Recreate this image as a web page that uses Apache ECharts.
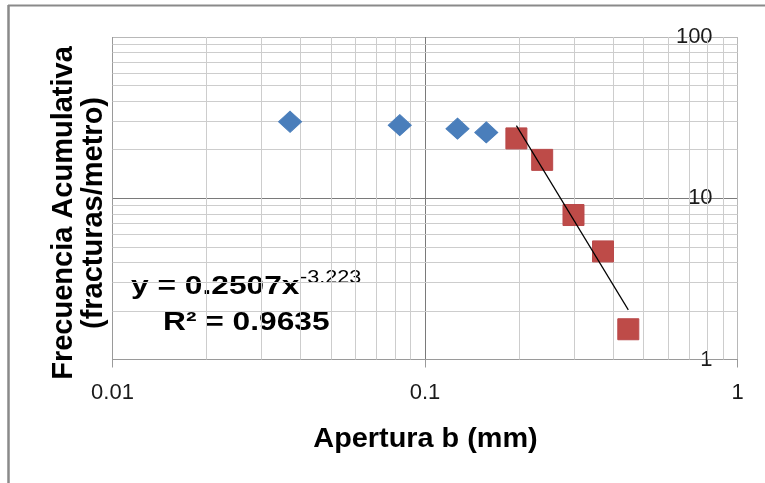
<!DOCTYPE html>
<html>
<head>
<meta charset="utf-8">
<script src="https://cdn.jsdelivr.net/npm/echarts@6/dist/echarts.min.js"></script>
<style>
html,body{margin:0;padding:0;background:#fff;}
#chart{width:765px;height:483px;}
</style>
</head>
<body>
<div id="chart"></div>
<script>
// ---- data ----
var blueX = [0.037, 0.083, 0.127, 0.157];
var blueY = [29.8, 28.4, 27.0, 25.6];
var redX = [0.196, 0.237, 0.2985, 0.371, 0.447];
var redY = [23.5, 17.3, 7.87, 4.68, 1.54];
var trendX = [0.196, 0.447];
var trendY = [28.2, 2.03];
var xTickLabels = ['0.01', '0.1', '1'];
var yTickLabels = ['1', '10', '100'];
var xTitle = 'Apertura b (mm)';
var yTitle = ['Frecuencia Acumulativa', '(fracturas/metro)'];
var eqMain = 'y = 0.2507x';
var eqExp = '-3.223';
var eqR2 = 'R\u00B2 = 0.9635';

function zip(a, b) { return a.map(function (v, i) { return [v, b[i]]; }); }

// minor gridline positions (2..9 within each decade)
var xMinor = [], yMinor = [];
[0.01, 0.1].forEach(function (d) { for (var k = 2; k <= 9; k++) xMinor.push(+(k * d).toPrecision(3)); });
[1, 10].forEach(function (d) { for (var k = 2; k <= 9; k++) yMinor.push(k * d); });
var minorLines = xMinor.map(function (v) { return { xAxis: v }; })
  .concat(yMinor.map(function (v) { return { yAxis: v }; }));

var FONT = '"Liberation Sans", Arial, sans-serif';
var chart = echarts.init(document.getElementById('chart'), null, { renderer: 'canvas' });
chart.setOption({
  backgroundColor: '#ffffff',
  animation: false,
  grid: { left: 112.5, right: 27.4, top: 37, bottom: 123.5, containLabel: false },
  xAxis: {
    type: 'log', logBase: 10, min: 0.01, max: 1,
    axisLine: { show: true, lineStyle: { color: '#9a9a9a', width: 1 } },
    axisTick: { show: true, length: 8, lineStyle: { color: '#9a9a9a' } },
    axisLabel: {
      fontSize: 22, color: '#1a1a1a', fontFamily: FONT, margin: 22,
      formatter: function (v, i) { return xTickLabels[i]; }
    },
    splitLine: { show: true, lineStyle: { color: ['#9a9a9a', '#7a7a7a', '#b8b8b8'], width: 1 } },
    minorTick: { show: false }, minorSplitLine: { show: false }
  },
  yAxis: {
    type: 'log', logBase: 10, min: 1, max: 100, position: 'right',
    axisLine: { show: false }, axisTick: { show: false },
    axisLabel: {
      inside: true, margin: 25, fontSize: 22, color: '#1a1a1a', fontFamily: FONT,
      formatter: function (v, i) { return yTickLabels[i]; }
    },
    splitLine: { show: true, lineStyle: { color: ['#9a9a9a', '#7a7a7a', '#b8b8b8'], width: 1 } },
    minorTick: { show: false }, minorSplitLine: { show: false }
  },
  series: [
    {
      type: 'line', name: 'trend', data: zip(trendX, trendY),
      showSymbol: false, symbol: 'none', z: 3,
      lineStyle: { color: '#000', width: 1.2 },
      markLine: {
        silent: true, symbol: 'none', z: 1, animation: false,
        label: { show: false },
        lineStyle: { color: '#cdcdcd', width: 1, type: 'solid' },
        emphasis: { disabled: true },
        data: minorLines
      }
    },
    {
      type: 'scatter', name: 'blue', data: zip(blueX, blueY),
      symbol: 'diamond', symbolSize: [23, 21], z: 2,
      itemStyle: { color: '#4A7EBB', borderColor: '#4A7EBB', borderWidth: 1, opacity: 1 }
    },
    {
      type: 'scatter', name: 'red', data: zip(redX, redY),
      symbol: 'rect', symbolSize: 21, z: 2,
      itemStyle: { color: '#BE4B48', borderColor: '#B9494A', borderWidth: 1, opacity: 1 }
    }
  ],
  graphic: [
    { type: 'line', shape: { x1: 8, y1: 5.5, x2: 765, y2: 5.5 }, style: { stroke: '#8a8a8a', lineWidth: 2 }, silent: true },
    { type: 'line', shape: { x1: 8.5, y1: 5, x2: 8.5, y2: 483 }, style: { stroke: '#8a8a8a', lineWidth: 2.5 }, silent: true },
    {
      type: 'text', x: 79, y: 213, rotation: Math.PI / 2, silent: true,
      style: { text: yTitle.join('\n'), font: 'bold 29px ' + FONT, fill: '#000', align: 'center', verticalAlign: 'middle', lineHeight: 30 }
    },
    {
      type: 'text', x: 425.5, y: 439, scaleX: 1.03, silent: true,
      style: { text: xTitle, font: 'bold 28px ' + FONT, fill: '#000', align: 'center', verticalAlign: 'middle' }
    },
    {
      type: 'text', x: 131, y: 287, scaleX: 1.22, silent: true,
      style: { text: eqMain, font: 'bold 26px ' + FONT, fill: '#000', align: 'left', verticalAlign: 'middle' }
    },
    {
      type: 'text', x: 300, y: 278, scaleX: 1.2, silent: true,
      style: { text: eqExp, font: '18px ' + FONT, fill: '#000', align: 'left', verticalAlign: 'middle' }
    },
    {
      type: 'text', x: 163, y: 323, scaleX: 1.22, silent: true,
      style: { text: eqR2, font: 'bold 26px ' + FONT, fill: '#000', align: 'left', verticalAlign: 'middle' }
    }
  ]
});
</script>
</body>
</html>
